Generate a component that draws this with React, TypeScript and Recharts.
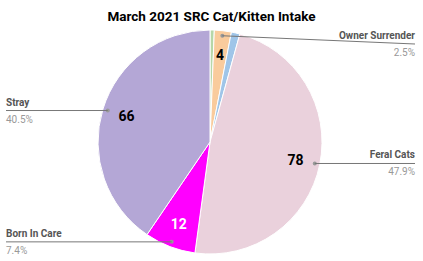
import React from 'react';
import { PieChart, Pie, Cell } from 'recharts';

// Intake by source, in clockwise order from 12 o'clock
const categories = ['Transfer', 'Owner Surrender', 'Return', 'Feral Cats', 'Born In Care', 'Stray'];
const intakeCounts = [1, 4, 2, 78, 12, 66];

const COLORS = ['#b6d7a8', '#f9cb9c', '#9fc5e8', '#ead1dc', '#ff00ff', '#b4a7d6'];
const VALUE_TEXT = ['#000', '#000', '#000', '#000', '#fff', '#000'];

const data = categories.map((name, i) => ({ name, value: intakeCounts[i] }));

const RAD = Math.PI / 180;
const WIDTH = 423;
const HEIGHT = 261;

const renderLabel = (props: any) => {
  const { cx, cy, midAngle, outerRadius, percent, value, name, index } = props;
  if (percent < 0.02) return null;
  const cos = Math.cos(-midAngle * RAD);
  const sin = Math.sin(-midAngle * RAD);

  // value printed inside the slice
  const vx = cx + outerRadius * 0.78 * cos;
  const vy = cy + outerRadius * 0.78 * sin;

  // leader line from a dot on the slice out to the chart edge
  const dx = cx + outerRadius * 0.955 * cos;
  const dy = cy + outerRadius * 0.955 * sin;
  const right = cos >= 0;
  const edgeX = right ? WIDTH - 8 : 6;
  const lineY = Math.max(dy, 44);
  const anchor = right ? 'end' : 'start';

  return (
    <g>
      <text
        x={vx}
        y={vy}
        textAnchor="middle"
        dominantBaseline="central"
        fill={VALUE_TEXT[index]}
        fontSize={14}
        fontWeight="bold"
      >
        {value}
      </text>
      <circle cx={dx} cy={dy} r={2} fill="#999" />
      <line x1={dx} y1={dy} x2={edgeX} y2={lineY} stroke="#777" strokeWidth={1} />
      <text x={edgeX} y={lineY - 5} textAnchor={anchor} fill="#555" fontSize={10} fontWeight="bold">
        {name}
      </text>
      <text x={edgeX} y={lineY + 12} textAnchor={anchor} fill="#999" fontSize={10}>
        {`${(percent * 100).toFixed(1)}%`}
      </text>
    </g>
  );
};

export default function App() {
  return (
    <div
      style={{
        position: 'absolute',
        left: 0,
        top: 0,
        width: WIDTH,
        height: HEIGHT,
        background: '#fff',
        fontFamily: 'Roboto, sans-serif',
      }}
    >
      <div
        style={{
          position: 'absolute',
          top: 8,
          width: '100%',
          textAlign: 'center',
          fontSize: 13.5,
          fontWeight: 'bold',
          color: '#000',
        }}
      >
        March 2021 SRC Cat/Kitten Intake
      </div>
      <PieChart
        width={WIDTH}
        height={HEIGHT}
        margin={{ top: 0, right: 0, bottom: 0, left: 0 }}
        style={{ fontFamily: 'Roboto, sans-serif' }}
      >
        <Pie
          data={data}
          dataKey="value"
          nameKey="name"
          cx={210}
          cy={142}
          outerRadius={112}
          startAngle={90}
          endAngle={-270}
          stroke="#fff"
          strokeWidth={1}
          label={renderLabel}
          labelLine={false}
          isAnimationActive={false}
        >
          {data.map((d, i) => (
            <Cell key={d.name} fill={COLORS[i]} />
          ))}
        </Pie>
      </PieChart>
    </div>
  );
}
